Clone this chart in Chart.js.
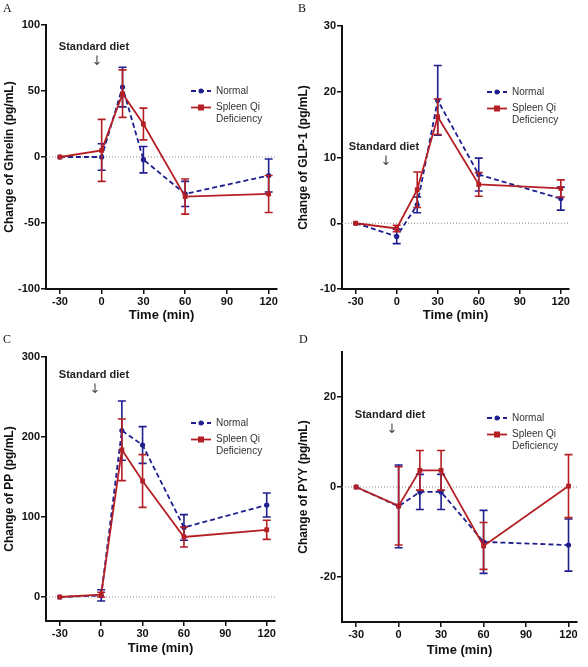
<!DOCTYPE html>
<html>
<head>
<meta charset="utf-8">
<script src="https://cdn.jsdelivr.net/npm/chart.js@4/dist/chart.umd.min.js"></script>
<style>
    body { margin: 0; background: #fff; width: 588px; height: 667px; position: relative; overflow: hidden; }
    .panel { position: absolute; }
    .letter { position: absolute; font-family: "Liberation Serif", "Times New Roman", serif; font-size: 12px; color: #111; }
</style>
</head>
<body>
<div class="panel" style="left:0;top:0"><canvas id="chartA" width="294" height="330"></canvas></div>
<div class="panel" style="left:294px;top:0"><canvas id="chartB" width="294" height="330"></canvas></div>
<div class="panel" style="left:0;top:330px"><canvas id="chartC" width="294" height="337"></canvas></div>
<div class="panel" style="left:294px;top:330px"><canvas id="chartD" width="294" height="337"></canvas></div>
<div class="letter" style="left:3px;top:1px">A</div>
<div class="letter" style="left:298px;top:1px">B</div>
<div class="letter" style="left:3px;top:332px">C</div>
<div class="letter" style="left:299px;top:332px">D</div>
<script>
// time points (min) and x tick labels
const times = [-30, 0, 15, 30, 60, 120];
const xTicks = [-30, 0, 30, 60, 90, 120];

// Ghrelin
const ghrelinNormal = [0, 0, 53, -2, -28, -14];
const ghrelinNormalErr = [0, 10, 15, 10, 9.5, 12.5];
const ghrelinSqd = [0, 5, 48, 25, -30, -28];
const ghrelinSqdErr = [0, 23.5, 18, 12, 13.3, 14];
const ghrelinTicks = [-100, -50, 0, 50, 100];

// GLP-1
const glpNormal = [0, -2, 2.8, 18.7, 7.4, 3.75];
const glpNormalErr = [0, 1.1, 1.2, 5.3, 2.5, 1.75];
const glpSqd = [0, -0.8, 5.1, 16.2, 5.9, 5.3];
const glpSqdErr = [0, 0.5, 2.7, 2.7, 1.8, 1.3];
const glpTicks = [-10, 0, 10, 20, 30];

// PP
const ppNormal = [0, 2, 208, 190, 87, 115];
const ppNormalErr = [0, 7, 37, 23, 16, 15];
const ppSqd = [0, 3, 184, 145, 75, 84];
const ppSqdErr = [0, 3, 38.5, 33, 12.5, 12];
const ppTicks = [0, 100, 200, 300];

// PYY
const pyyNormal = [0, -4.3, -1.1, -1.1, -12.2, -12.9];
const pyyNormalErr = [0, 9.2, 3.9, 3.9, 7, 5.8];
const pyySqd = [0, -4.2, 3.7, 3.7, -13.1, 0.2];
const pyySqdErr = [0, 8.7, 4.4, 4.4, 5.2, 7];
const pyyTicks = [-20, 0, 20];

const BLUE = '#1f1f8f';
const RED = '#b41f24';
const FONT = 'Arial, "Liberation Sans", sans-serif';

const toPoints = vals => times.map((t, i) => ({ x: t, y: vals[i] }));

// error bars drawn right after each dataset, through the chart scales
const errorBars = {
    id: 'errorBars',
    afterDatasetDraw(chart, args) {
        const ds = chart.data.datasets[args.index];
        if (!ds.errors) return;
        const { ctx, scales: { x, y } } = chart;
        ctx.save();
        ctx.strokeStyle = ds.borderColor;
        ctx.lineWidth = 1.6;
        ctx.setLineDash([]);
        ds.data.forEach((p, i) => {
            const e = ds.errors[i];
            if (!e) return;
            const px = x.getPixelForValue(p.x);
            const top = y.getPixelForValue(p.y + e);
            const bot = y.getPixelForValue(p.y - e);
            ctx.beginPath();
            ctx.moveTo(px, top); ctx.lineTo(px, bot);
            ctx.moveTo(px - 4, top); ctx.lineTo(px + 4, top);
            ctx.moveTo(px - 4, bot); ctx.lineTo(px + 4, bot);
            ctx.stroke();
        });
        ctx.restore();
    }
};

// dotted zero line, legend and the "Standard diet" note
const decorations = {
    id: 'decorations',
    beforeDatasetsDraw(chart) {
        const { ctx, chartArea: ca, scales: { y } } = chart;
        const py = y.getPixelForValue(0);
        ctx.save();
        ctx.strokeStyle = '#888';
        ctx.lineWidth = 1;
        ctx.setLineDash([1, 2]);
        ctx.beginPath();
        ctx.moveTo(ca.left, py);
        ctx.lineTo(ca.right, py);
        ctx.stroke();
        ctx.restore();
    },
    afterDraw(chart, args, opts) {
        const { ctx, chartArea: ca } = chart;
        ctx.save();
        // note
        ctx.fillStyle = '#222';
        ctx.font = 'bold 11px ' + FONT;
        ctx.textAlign = 'center';
        ctx.textBaseline = 'middle';
        ctx.fillText('Standard diet', ca.left + opts.note[0], ca.top + opts.note[1]);
        ctx.fillStyle = '#444';
        ctx.font = '13px "DejaVu Sans", sans-serif';
        ctx.fillText('\u2193', ca.left + opts.note[2], ca.top + opts.note[1] + 15);

        // legend
        const lx = ca.left + 145;
        let ly = ca.top + 66;
        ctx.font = '10px ' + FONT;
        ctx.textAlign = 'left';
        chart.data.datasets.slice().sort((a, b) => b.order - a.order).forEach(ds => {
            ctx.strokeStyle = ds.borderColor;
            ctx.fillStyle = ds.borderColor;
            ctx.lineWidth = ds.borderWidth;
            ctx.setLineDash(ds.borderDash || []);
            ctx.beginPath();
            ctx.moveTo(lx, ly);
            ctx.lineTo(lx + 20, ly);
            ctx.stroke();
            ctx.setLineDash([]);
            if (ds.pointStyle === 'rect') {
                ctx.fillRect(lx + 10 - 3, ly - 3, 6, 6);
            } else {
                ctx.beginPath();
                ctx.arc(lx + 10, ly, 2.5, 0, Math.PI * 2);
                ctx.fill();
            }
            ctx.fillStyle = '#333';
            ds.label.split('\n').forEach((line, k) => {
                ctx.fillText(line, lx + 25, ly + k * 12);
            });
            ly += 16.5;
        });
        ctx.restore();
    }
};

function makeChart(id, cfg) {
    const ctx = document.getElementById(id).getContext('2d');
    return new Chart(ctx, {
        type: 'line',
        data: {
            datasets: [
                {
                    label: 'Normal',
                    data: toPoints(cfg.normal),
                    errors: cfg.normalErr,
                    borderColor: BLUE,
                    backgroundColor: BLUE,
                    borderWidth: 1.8,
                    borderDash: [5, 3],
                    pointStyle: 'circle',
                    pointRadius: 2.6,
                    pointBackgroundColor: BLUE,
                    pointBorderWidth: 0,
                    tension: 0,
                    order: 1,
                },
                {
                    label: 'Spleen Qi\nDeficiency',
                    data: toPoints(cfg.sqd),
                    errors: cfg.sqdErr,
                    borderColor: RED,
                    backgroundColor: RED,
                    borderWidth: 1.8,
                    pointStyle: 'rect',
                    pointRadius: 3.4,
                    pointBackgroundColor: RED,
                    pointBorderWidth: 0,
                    tension: 0,
                    order: 0,
                }
            ]
        },
        options: {
            responsive: false,
            animation: false,
            events: [],
            layout: { padding: { top: cfg.top, right: cfg.right, left: 0, bottom: 0 } },
            plugins: {
                legend: { display: false },
                tooltip: { enabled: false },
                decorations: { note: cfg.note },
            },
            scales: {
                x: {
                    type: 'linear',
                    min: -40,
                    max: 126,
                    afterBuildTicks: s => { s.ticks = xTicks.map(v => ({ value: v })); },
                    afterFit: s => { s.height = cfg.xh; },
                    grid: { drawOnChartArea: false, drawTicks: true, tickLength: 5, color: '#111', lineWidth: 1.5 },
                    border: { color: '#111', width: 2 },
                    ticks: { color: '#111', font: { family: FONT, size: 11, weight: 'bold' }, padding: 1, maxRotation: 0, autoSkip: false, callback: v => String(v) },
                    title: { display: true, text: 'Time (min)', color: '#111', font: { family: FONT, size: 13, weight: 'bold' }, padding: { top: 0, bottom: cfg.titlePad } },
                },
                y: {
                    min: cfg.yMin,
                    max: cfg.yMax,
                    afterBuildTicks: s => { s.ticks = cfg.yTicks.map(v => ({ value: v })); },
                    afterFit: s => { s.width = cfg.left; },
                    grid: { drawOnChartArea: false, drawTicks: true, tickLength: 5, color: '#111', lineWidth: 1.5 },
                    border: { color: '#111', width: 2 },
                    ticks: { color: '#111', font: { family: FONT, size: 11, weight: 'bold' }, padding: 1, callback: v => String(v) },
                    title: { display: true, text: cfg.yTitle, color: '#111', font: { family: FONT, size: 12, weight: 'bold' }, padding: { top: 2, bottom: 0 } },
                }
            }
        },
        plugins: [errorBars, decorations]
    });
}

makeChart('chartA', {
    normal: ghrelinNormal, normalErr: ghrelinNormalErr, sqd: ghrelinSqd, sqdErr: ghrelinSqdErr,
    yMin: -100, yMax: 100, yTicks: ghrelinTicks, yTitle: 'Change of Ghrelin (pg/mL)',
    left: 46, top: 25, right: 17, xh: 41, titlePad: 7, note: [48, 22, 51],
});
makeChart('chartB', {
    normal: glpNormal, normalErr: glpNormalErr, sqd: glpSqd, sqdErr: glpSqdErr,
    yMin: -10, yMax: 30, yTicks: glpTicks, yTitle: 'Change of GLP-1 (pg/mL)',
    left: 48, top: 26, right: 19, xh: 41, titlePad: 7, note: [42, 121, 44],
});
makeChart('chartC', {
    normal: ppNormal, normalErr: ppNormalErr, sqd: ppSqd, sqdErr: ppSqdErr,
    yMin: -30, yMax: 300, yTicks: ppTicks, yTitle: 'Change of PP (pg/mL)',
    left: 46, top: 27, right: 19, xh: 46, titlePad: 11, note: [48, 18, 49],
});
makeChart('chartD', {
    normal: pyyNormal, normalErr: pyyNormalErr, sqd: pyySqd, sqdErr: pyySqdErr,
    yMin: -30, yMax: 30, yTicks: pyyTicks, yTitle: 'Change of PYY (pg/mL)',
    left: 48, top: 22, right: 11, xh: 45, titlePad: 9, note: [48, 63, 50],
});
</script>
</body>
</html>
